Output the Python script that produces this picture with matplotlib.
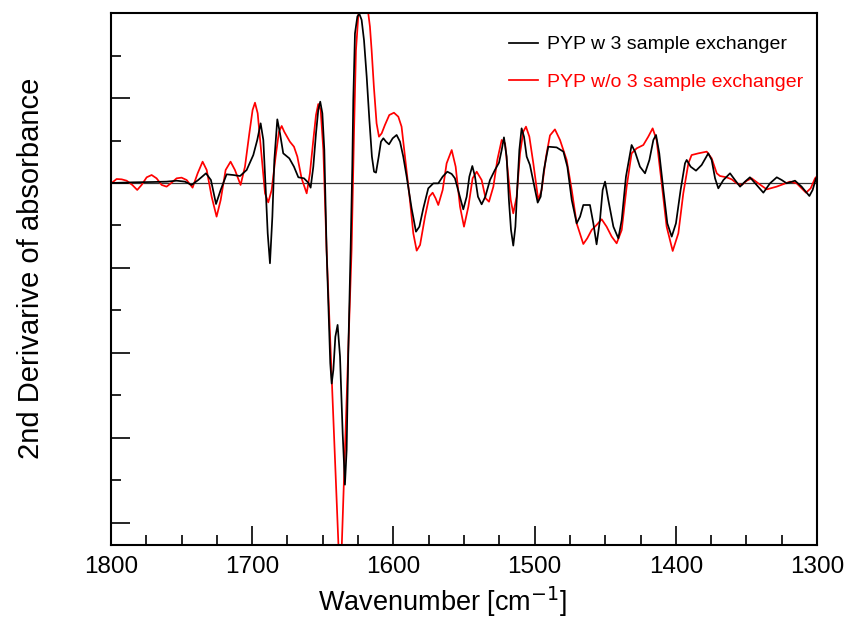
import numpy as np
import matplotlib.pyplot as plt
from matplotlib.ticker import MultipleLocator, NullFormatter

# ---------- data (wavenumber in cm-1, arbitrary units) ----------
wn_black = [1800, 1784.2, 1770.0, 1760.6, 1753.5, 1747.6, 1742.9, 1738.2, 1732.7, 1729.2,
            1725.6, 1722.3, 1718.1, 1713.4, 1708.6, 1703.9, 1699.2, 1696.4, 1694.0, 1692.1,
            1690.5, 1689.0, 1687.4, 1685.7, 1684.3, 1682.2, 1680.3, 1678.0, 1673.7, 1670.4,
            1667.3, 1663.3, 1660.3, 1658.6, 1656.7, 1654.8, 1653.2, 1651.8, 1650.3, 1648.9,
            1647.3, 1645.8, 1644.7, 1643.7, 1642.5, 1641.1, 1639.5, 1637.8, 1635.9, 1634.3,
            1633.1, 1631.9, 1630.3, 1629.1, 1628.4, 1627.2, 1625.5, 1624.1, 1622.5, 1620.8,
            1618.9, 1617.0, 1615.2, 1613.7, 1612.3, 1610.4, 1608.8, 1607.1, 1605.2, 1603.1,
            1600.5, 1597.7, 1595.3, 1593.0, 1590.6, 1587.1, 1584.0, 1581.6, 1578.8, 1575.3,
            1571.7, 1568.2, 1565.1, 1561.8, 1558.7, 1556.4, 1553.5, 1550.5, 1548.1, 1546.2,
            1544.1, 1542.2, 1540.1, 1537.5, 1534.9, 1531.6, 1528.1, 1525.2, 1523.3, 1521.7,
            1519.8, 1518.2, 1516.7, 1515.1, 1513.6, 1512.2, 1510.8, 1509.2, 1507.5, 1505.6,
            1503.3, 1500.9, 1497.8, 1495.7, 1493.4, 1490.3, 1484.4, 1479.6, 1476.8, 1473.7,
            1470.2, 1467.8, 1465.5, 1460.8, 1458.4, 1456.1, 1453.7, 1451.8, 1450.1, 1447.8,
            1444.2, 1440.7, 1438.3, 1435.3, 1431.3, 1428.9, 1425.4, 1421.8, 1418.7, 1415.9,
            1414.0, 1411.7, 1408.8, 1406.0, 1402.9, 1399.9, 1396.6, 1393.5, 1392.3, 1389.5,
            1385.7, 1381.7, 1377.0, 1374.6, 1372.2, 1369.9, 1366.3, 1361.6, 1358.1, 1354.5,
            1351.0, 1347.5, 1342.7, 1338.0, 1333.3, 1328.5, 1325.0, 1321.5, 1315.6, 1310.9,
            1305.4, 1303.1, 1300.7, 1300]
d2_black = [0.0, 0.08, 0.12, 0.16, 0.27, 0.16, -0.23, 0.35, 1.14, 0.35,
            -2.47, -0.82, 1.02, 0.94, 0.82, 1.53, 3.29, 5.06, 7.02, 5.06,
            -0.43, -5.92, -9.45, -3.96, 2.71, 7.49, 5.84, 3.49, 2.90, 1.92,
            0.67, 0.55, 0.04, -0.55, 1.92, 5.84, 8.59, 9.57, 8.20, 3.88,
            -7.88, -15.7, -21.2, -23.6, -22.0, -18.1, -16.7, -20.4, -29.5, -35.5,
            -31.4, -19.6, -7.9, 1.92, 9.77, 17.6, 19.6, 19.9, 19.2, 16.8,
            12.5, 7.41, 3.10, 1.33, 1.22, 3.10, 4.86, 5.26, 4.86, 4.55,
            5.26, 5.65, 4.86, 3.10, 0.75, -2.98, -5.73, -5.14, -2.98, -0.63,
            -0.04, -0.04, 0.75, 1.33, 1.06, 0.55, -1.22, -3.10, -1.61, 0.75,
            2.00, 0.75, -1.61, -2.51, -1.61, 0.35, 1.53, 2.39, 3.88, 5.37,
            3.10, -2.0, -5.53, -7.37, -5.14, -0.43, 3.88, 6.43, 5.45, 3.10,
            2.12, 0.16, -2.31, -1.61, 1.53, 4.27, 4.19, 3.69, 1.92, -2.0,
            -4.75, -3.96, -2.59, -2.59, -4.75, -7.22, -4.35, -0.82, 0.16, -2.0,
            -5.14, -6.51, -4.35, 0.75, 4.47, 3.69, 1.92, 1.14, 2.71, 5.06,
            5.65, 3.49, -0.82, -4.75, -6.31, -4.75, -0.82, 2.31, 2.71, 1.92,
            1.45, 2.12, 3.49, 2.71, 0.55, -0.63, 0.35, 1.14, 0.35, -0.43,
            0.16, 0.67, -0.24, -1.14, -0.04, 0.67, 0.35, -0.04, 0.27, -0.43,
            -1.53, -0.82, 0.55, 0.6]

wn_red = [1799.5, 1796.0, 1792.4, 1788.9, 1784.9, 1781.4, 1778.3, 1774.7, 1771.2, 1767.7,
          1764.1, 1760.6, 1757.0, 1753.5, 1750.0, 1746.4, 1742.2, 1738.6, 1735.1, 1732.2,
          1728.7, 1725.2, 1722.3, 1718.8, 1715.3, 1712.2, 1708.2, 1705.1, 1702.0, 1699.7,
          1698.0, 1696.1, 1693.3, 1690.9, 1688.6, 1686.2, 1683.4, 1681.0, 1679.1, 1677.3,
          1673.3, 1670.4, 1668.0, 1665.0, 1661.4, 1659.1, 1656.7, 1654.8, 1653.2, 1651.5,
          1649.6, 1647.3, 1637.6, 1629.6, 1627.9, 1626.5, 1623.7, 1620.8, 1617.8, 1616.6,
          1615.4, 1613.8, 1611.9, 1610.2, 1608.3, 1606.0, 1602.9, 1599.6, 1596.5, 1594.2,
          1591.8, 1588.3, 1585.9, 1583.5, 1581.1, 1577.6, 1574.6, 1572.2, 1570.1, 1568.2,
          1565.1, 1562.3, 1558.7, 1555.9, 1552.8, 1550.0, 1546.9, 1543.9, 1541.0, 1537.5,
          1534.7, 1532.3, 1529.2, 1526.4, 1523.3, 1520.9, 1518.6, 1516.9, 1515.1, 1512.7,
          1510.3, 1508.0, 1506.1, 1503.7, 1500.9, 1497.4, 1495.0, 1491.9, 1489.1, 1485.6,
          1482.0, 1477.3, 1473.7, 1470.2, 1465.5, 1462.7, 1459.6, 1456.1, 1452.5, 1449.0,
          1445.4, 1441.9, 1438.3, 1434.8, 1431.3, 1427.7, 1423.0, 1419.5, 1416.4, 1413.6,
          1410.0, 1406.5, 1402.2, 1398.2, 1394.7, 1391.1, 1388.8, 1384.0, 1378.1, 1374.6,
          1371.0, 1368.7, 1364.1, 1360.4, 1356.9, 1353.3, 1349.8, 1346.3, 1341.6, 1335.6,
          1328.6, 1319.1, 1314.4, 1307.8, 1304.5, 1301.4, 1300]
d2_red = [0.0, 0.47, 0.43, 0.27, -0.23, -0.82, -0.23, 0.67, 0.94, 0.55,
          -0.23, -0.43, 0.04, 0.55, 0.63, 0.35, -0.55, 1.14, 2.51, 1.53,
          -1.61, -3.96, -2.0, 1.53, 2.51, 1.53, -0.23, 1.92, 5.84, 8.59,
          9.45, 8.20, 3.10, -1.22, -2.28, -0.82, 3.10, 6.04, 6.71, 6.04,
          4.86, 4.27, 3.10, 0.55, -1.22, 1.14, 5.06, 8.00, 9.29, 8.59,
          3.88, -7.88, -48.0, -7.9, 5.84, 15.6, 22.5, 25.0, 20.0, 18.4,
          15.6, 11.3, 7.02, 5.45, 5.84, 6.82, 8.0, 8.27, 7.8, 6.63,
          3.10, -2.0, -5.92, -7.96, -7.29, -3.96, -1.61, -1.14, -1.80, -2.59,
          -0.82, 2.31, 3.88, 1.92, -2.79, -5.14, -2.79, 0.55, 1.33, 0.35,
          -1.80, -2.20, -0.43, 2.71, 5.06, 4.67, 0.75, -2.0, -3.57, -1.61,
          3.49, 6.04, 6.63, 5.45, 2.31, -2.0, -0.82, 3.10, 5.6, 6.31,
          5.06, 2.71, -0.82, -4.75, -7.18, -6.51, -5.53, -4.94, -4.27, -5.14,
          -6.31, -7.10, -5.53, -0.43, 3.49, 4.08, 4.47, 5.45, 6.43, 5.06,
          -0.04, -5.14, -8.0, -5.92, -1.22, 2.31, 3.29, 3.49, 3.69, 2.90,
          1.14, 0.82, 0.67, 0.43, -0.04, -0.24, 0.27, 0.55, -0.04, -0.75,
          -0.43, 0.16, -0.04, -1.14, -0.63, 0.55, 0.8]

label_black = "PYP w 3 sample exchanger"
label_red = "PYP w/o 3 sample exchanger"

plt.rcParams["font.family"] = ["Liberation Sans", "DejaVu Sans"]

fig = plt.figure(figsize=(8.47, 6.21), dpi=100)
ax = fig.add_axes([0.131, 0.1224, 0.8336, 0.8566])

ax.axhline(0, color="#333333", linewidth=0.9, zorder=1)
line_red, = ax.plot(wn_red, d2_red, color="#ff0000", linewidth=1.25, label=label_red,
                    zorder=2, solid_joinstyle="round")
line_black, = ax.plot(wn_black, d2_black, color="black", linewidth=1.25, label=label_black,
                      zorder=3, solid_joinstyle="round")

ax.set_xlim(1800, 1300)
ax.set_ylim(-42.6, 20)

ax.xaxis.set_major_locator(MultipleLocator(100))
ax.xaxis.set_minor_locator(MultipleLocator(25))
ax.yaxis.set_major_locator(MultipleLocator(10))
ax.yaxis.set_minor_locator(MultipleLocator(5))
ax.yaxis.set_major_formatter(NullFormatter())

ax.tick_params(axis="both", which="major", direction="in", length=14, width=1.2,
               top=False, right=False)
ax.tick_params(axis="both", which="minor", direction="in", length=7, width=1.2,
               top=False, right=False)
ax.tick_params(axis="x", labelsize=17.5, pad=8)

for s in ax.spines.values():
    s.set_linewidth(1.5)

ax.set_xlabel("Wavenumber [cm$^{-1}$]", fontsize=19.5)
ax.xaxis.set_label_coords(0.469, -0.075)
ax.set_ylabel("2nd Derivarive of absorbance", fontsize=21)
ax.yaxis.set_label_coords(-0.094, 0.52)

ax.legend(handles=[line_black, line_red], loc="upper right", frameon=False,
          fontsize=14, handlelength=1.5, handletextpad=0.45, labelspacing=1.0,
          labelcolor="linecolor", bbox_to_anchor=(1.005, 0.99))

fig.savefig("out.png", dpi=100)
